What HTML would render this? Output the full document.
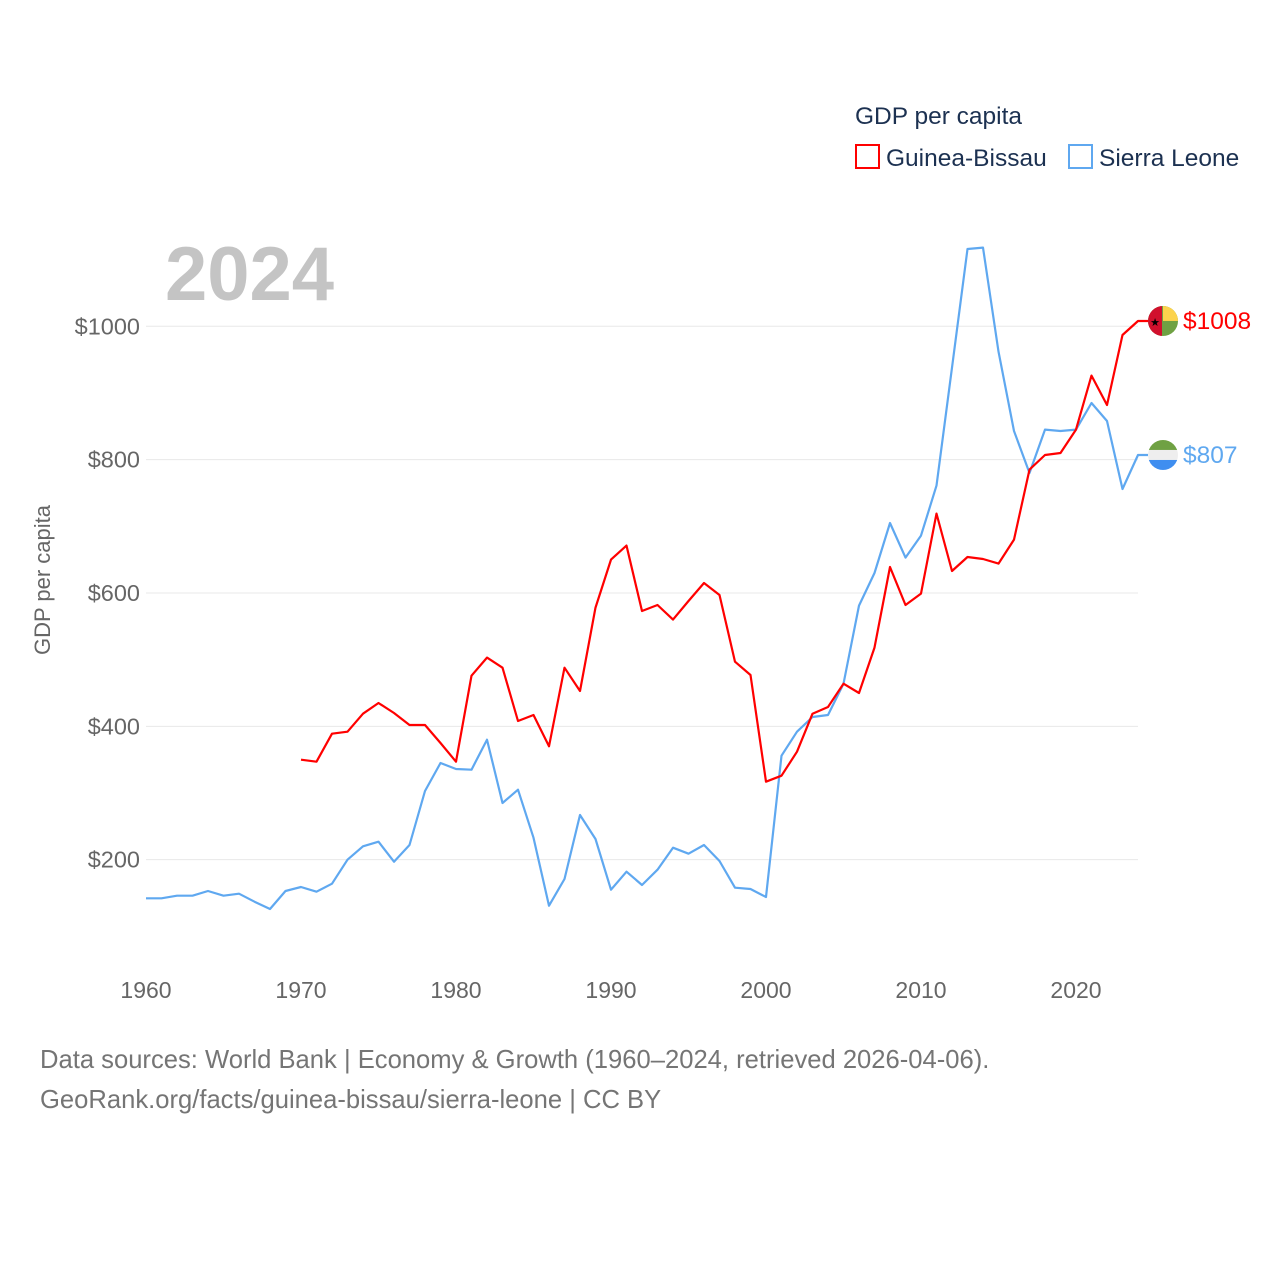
<!DOCTYPE html>
<html><head><meta charset="utf-8"><style>
html,body{margin:0;padding:0;background:#fff;}
svg text{font-family:"Liberation Sans",sans-serif;}
</style></head><body>
<svg id="chart" width="1280" height="1280" viewBox="0 0 1280 1280" xmlns="http://www.w3.org/2000/svg">
<text x="855" y="124" font-size="24.5" fill="#1c3151">GDP per capita</text>
<g>
<rect x="856" y="145" width="23" height="23" fill="none" stroke="#ff0000" stroke-width="2"/>
<text x="886" y="166" font-size="24.5" fill="#1c3151">Guinea-Bissau</text></g>
<g>
<rect x="1069" y="145" width="23" height="23" fill="none" stroke="#5fa8f0" stroke-width="2"/>
<text x="1099" y="166" font-size="24.5" fill="#1c3151">Sierra Leone</text></g>
<text x="165" y="300" font-size="76" font-weight="bold" fill="#c4c4c4">2024</text>
<g id="grid"></g><g id="yticks"></g><g id="xticks"></g><g id="lines"></g>
<text transform="translate(50,580) rotate(-90)" text-anchor="middle" font-size="22" fill="#666">GDP per capita</text>
<text x="40" y="1068" font-size="25.6" fill="#757575">Data sources: World Bank | Economy &amp; Growth (1960–2024, retrieved 2026-04-06).</text>
<text x="40" y="1108" font-size="25.6" fill="#757575">GeoRank.org/facts/guinea-bissau/sierra-leone | CC BY</text>
</svg>
<script>
const sierraStart = 1960;
const sierraLeone = [142,142,146,146,153,146,149,137,126,153,159,152,164,200,220,227,197,222,303,345,336,335,380,285,305,233,131,171,267,231,155,182,162,185,218,209,222,198,158,156,144,356,392,414,417,464,581,630,705,653,686,761,938,1116,1118,962,843,780,845,843,845,885,858,756,807];
const guineaStart = 1970;
const guineaBissau = [350,347,389,392,419,435,420,402,402,375,347,476,503,488,408,417,370,488,453,578,650,671,573,582,560,588,615,597,497,477,317,326,362,419,429,464,450,518,639,582,599,719,633,654,651,644,680,785,807,810,845,926,882,987,1008];
const yTicks = [200,400,600,800,1000];
const xTicks = [1960,1970,1980,1990,2000,2010,2020];
const NS='http://www.w3.org/2000/svg';
const X = yr => 146 + (yr-1960)*15.5;
const Y = v => 993 - v*0.6667;
function mk(tag, attrs, parent){const e=document.createElementNS(NS,tag);for(const k in attrs)e.setAttribute(k,attrs[k]);document.getElementById(parent).appendChild(e);return e;}
yTicks.forEach(t=>{
  const l=mk('line',{x1:146,x2:1138,y1:Y(t),y2:Y(t),stroke:'#e8e8e8','stroke-width':1},'grid');
  
  
  const tx=mk('text',{x:140,y:Y(t)+8,'text-anchor':'end','font-size':23.5,fill:'#666'},'yticks');
  tx.textContent='$'+t;
  
  
});
xTicks.forEach(t=>{
  const tx=mk('text',{x:X(t),y:998,'text-anchor':'middle','font-size':23,fill:'#666'},'xticks');
  tx.textContent=t;
  
  
});
function series(vals,start,color,name){
  const last=vals[vals.length-1], ex=X(start+vals.length-1), ey=Y(last);
  const d=vals.map((v,i)=>(i?'L':'M')+X(start+i).toFixed(1)+' '+Y(v).toFixed(1)).join(' ')+' L'+(ex+10)+' '+ey.toFixed(1);
  const p=mk('path',{d:d,fill:'none',stroke:color,'stroke-width':2.2,'stroke-linejoin':'round'},'lines');
  
  
  const lbl=mk('text',{x:ex+45,y:ey+8,'font-size':24.5,fill:color},'lines');
  lbl.textContent='$'+last;
  
  
  return {ex,ey};
}
const s=series(sierraLeone,sierraStart,'#5fa8f0','sierra-leone');
const g=series(guineaBissau,guineaStart,'#ff0000','guinea-bissau');
const cx=g.ex+25, r=15;
const fg=mk('g',{},'lines');


fg.innerHTML=`<clipPath id="c1"><circle cx="${cx}" cy="${g.ey}" r="${r}"/></clipPath><g clip-path="url(#c1)"><rect x="${cx-r}" y="${g.ey-r}" width="30" height="30" fill="#6fa143"/><rect x="${cx}" y="${g.ey-r}" width="15" height="15" fill="#fcd34d"/><rect x="${cx-r}" y="${g.ey-r}" width="14" height="30" fill="#d1102d"/></g><text x="${cx-8}" y="${g.ey+5}" font-size="11" text-anchor="middle" fill="#000">★</text>`;
const fs=mk('g',{},'lines');


fs.innerHTML=`<clipPath id="c2"><circle cx="${cx}" cy="${s.ey}" r="${r}"/></clipPath><g clip-path="url(#c2)"><rect x="${cx-r}" y="${s.ey-r}" width="30" height="10" fill="#6fa143"/><rect x="${cx-r}" y="${s.ey-5}" width="30" height="10" fill="#eee"/><rect x="${cx-r}" y="${s.ey+5}" width="30" height="10" fill="#3f8ef0"/></g>`;
</script>
</body></html>
